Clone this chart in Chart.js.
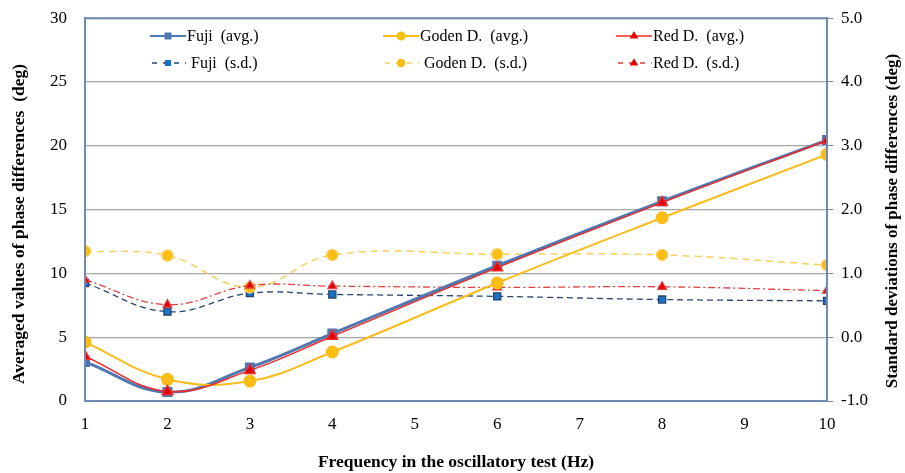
<!DOCTYPE html>
<html>
<head>
<meta charset="utf-8">
<script src="https://cdn.jsdelivr.net/npm/chart.js@4.4.0/dist/chart.umd.min.js"></script>
<style>
    body { margin: 0; background: #fff; }
    .wrap { position: relative; width: 905px; height: 473px; }
    #legend { position: absolute; left: 150px; top: 27px; font-family: "Liberation Serif", serif; font-size: 16px; color: #000; }
    .item { position: absolute; white-space: pre; display: flex; align-items: center; height: 18px; }
    .item canvas { margin-right: 1px; }
</style>
</head>
<body>
<div class="wrap">
    <canvas id="chart" width="905" height="473"></canvas>
    <div id="legend"></div>
</div>
<script>
// frequencies (Hz)
const freqs = [1, 2, 3, 4, 6, 8, 10];

// averaged values (left axis, deg)
const fujiAvg = [3.06, 0.70, 2.63, 5.28, 10.6, 15.65, 20.45];
const godenAvg = [4.62, 1.70, 1.56, 3.84, 9.25, 14.36, 19.33];
const redAvg = [3.50, 0.75, 2.40, 5.07, 10.45, 15.55, 20.42];

// standard deviations (right axis, deg)
const fujiSd = [0.85, 0.40, 0.69, 0.67, 0.64, 0.59, 0.57];
const godenSd = [1.35, 1.28, 0.78, 1.29, 1.30, 1.29, 1.13];
const redSd = [0.90, 0.51, 0.81, 0.80, 0.78, 0.79, 0.73];

const xTicks = [1, 2, 3, 4, 5, 6, 7, 8, 9, 10];
const leftTicks = [0, 5, 10, 15, 20, 25, 30];
const rightTicks = [-1, 0, 1, 2, 3, 4, 5];

const leftTitle = 'Averaged values of phase differences  (deg)';
const rightTitle = 'Standard deviations of phase differences (deg)';

const frameColor = '#6f8bb0';
const serif = '"Liberation Serif", "Times New Roman", serif';

function pts(values) {
    return freqs.map(function(f, i) { return { x: f, y: values[i] }; });
}

const datasets = [
    { label: 'Fuji  (avg.)', data: pts(fujiAvg), yAxisID: 'y', borderColor: '#4f78b0', backgroundColor: '#4f78b0', borderWidth: 3, pointStyle: 'rect', pointRadius: 5, order: 3 },
    { label: 'Goden D.  (avg.)', data: pts(godenAvg), yAxisID: 'y', borderColor: '#f8bd1c', backgroundColor: '#fbbd12', borderWidth: 2, pointStyle: 'circle', pointRadius: 5.5, order: 2 },
    { label: 'Red D.  (avg.)', data: pts(redAvg), yAxisID: 'y', borderColor: '#ee2a2a', backgroundColor: '#e00000', borderWidth: 1.5, pointStyle: 'triangle', pointRadius: 6, order: 1 },
    { label: ' Fuji  (s.d.)', data: pts(fujiSd), yAxisID: 'y1', borderColor: '#27456e', backgroundColor: '#1a72c4', borderWidth: 1.3, borderDash: [6, 4], pointStyle: 'rect', pointRadius: 5, order: 6 },
    { label: ' Goden D.  (s.d.)', data: pts(godenSd), yAxisID: 'y1', borderColor: '#f7d060', backgroundColor: '#fbbd12', borderWidth: 1.5, borderDash: [7, 5], pointStyle: 'circle', pointRadius: 5.5, order: 5 },
    { label: 'Red D.  (s.d.)', data: pts(redSd), yAxisID: 'y1', borderColor: '#e24040', backgroundColor: '#e00000', borderWidth: 1.3, borderDash: [7, 3, 2, 3], pointStyle: 'triangle', pointRadius: 5, order: 4 }
];

// outline of the plot area + the two vertical axis titles (both read bottom to top)
const framePlugin = {
    id: 'frame',
    afterDatasetsDraw: function(chart) {
        const a = chart.chartArea;
        const ctx = chart.ctx;
        ctx.save();
        ctx.strokeStyle = frameColor;
        ctx.lineWidth = 2;
        ctx.strokeRect(a.left, a.top, a.right - a.left, a.bottom - a.top);
        ctx.restore();
    },
    afterDraw: function(chart) {
        const ctx = chart.ctx;
        const sides = [[leftTitle, 19, 224, 17.5], [rightTitle, 893, 221, 17]];
        sides.forEach(function(s) {
            ctx.save();
            ctx.translate(s[1], s[2]);
            ctx.rotate(-Math.PI / 2);
            ctx.font = 'bold ' + s[3] + 'px ' + serif;
            ctx.fillStyle = '#000';
            ctx.textAlign = 'center';
            ctx.textBaseline = 'middle';
            ctx.fillText(s[0], 0, 0);
            ctx.restore();
        });
    }
};

const tickFont = { family: serif, size: 17 };
const titleFont = { family: serif, size: 17.5, weight: 'bold' };

const ctx = document.getElementById('chart').getContext('2d');
const chart = new Chart(ctx, {
    type: 'line',
    data: { datasets: datasets },
    options: {
        responsive: false,
        animation: false,
        layout: { padding: { top: 16, left: 0, right: 0, bottom: 0 } },
        elements: { line: { tension: 0.4, fill: false }, point: { borderWidth: 1 } },
        plugins: { legend: { display: false }, tooltip: { enabled: false } },
        scales: {
            x: {
                type: 'linear', min: 1, max: 10,
                afterBuildTicks: function(s) { s.ticks = xTicks.map(function(v) { return { value: v }; }); },
                afterFit: function(s) { s.height = 72; },
                grid: { display: false, drawTicks: false },
                border: { color: frameColor, width: 2 },
                ticks: { color: '#000', font: tickFont, padding: 13 },
                title: { display: true, text: 'Frequency in the oscillatory test (Hz)', color: '#000', font: titleFont, padding: { top: 4, bottom: 0 } }
            },
            y: {
                position: 'left', min: 0, max: 30,
                afterBuildTicks: function(s) { s.ticks = leftTicks.map(function(v) { return { value: v }; }); },
                afterFit: function(s) { s.width = 85; },
                grid: { color: '#a6a6a6', lineWidth: 1.3, drawTicks: true, tickLength: 15, tickColor: 'rgba(0,0,0,0)' },
                border: { color: frameColor, width: 2 },
                ticks: { color: '#000', font: tickFont, padding: 3 }
            },
            y1: {
                position: 'right', min: -1, max: 5,
                afterBuildTicks: function(s) { s.ticks = rightTicks.map(function(v) { return { value: v }; }); },
                afterFit: function(s) { s.width = 78; },
                grid: { drawOnChartArea: false, color: frameColor, tickLength: 6 },
                border: { color: frameColor, width: 2 },
                ticks: { color: '#000', font: tickFont, padding: 8, callback: function(v) { return v.toFixed(1); } }
            }
        }
    },
    plugins: [framePlugin]
});

// html legend, 3 columns x 2 rows, built from the datasets
const legend = document.getElementById('legend');
chart.data.datasets.forEach(function(ds, i) {
    const item = document.createElement('div');
    item.className = 'item';
    item.style.left = (i % 3) * 233 + 'px';
    item.style.top = Math.floor(i / 3) * 27 + 'px';
    const c = document.createElement('canvas');
    c.width = 36; c.height = 16;
    const g = c.getContext('2d');
    g.strokeStyle = ds.borderColor;
    g.lineWidth = Math.min(ds.borderWidth, 2);
    g.setLineDash(ds.borderDash ? [5, 6] : []);
    g.beginPath(); g.moveTo(ds.borderDash ? 2 : 0, 8); g.lineTo(36, 8); g.stroke();
    g.setLineDash([]);
    g.fillStyle = ds.backgroundColor;
    g.strokeStyle = ds.backgroundColor;
    Chart.helpers.drawPoint(g, { pointStyle: ds.pointStyle, radius: 3.5, borderWidth: 1, rotation: 0 }, 18, 8);
    g.fill();
    item.appendChild(c);
    const t = document.createElement('span');
    t.textContent = ds.label;
    item.appendChild(t);
    legend.appendChild(item);
});
</script>
</body>
</html>
